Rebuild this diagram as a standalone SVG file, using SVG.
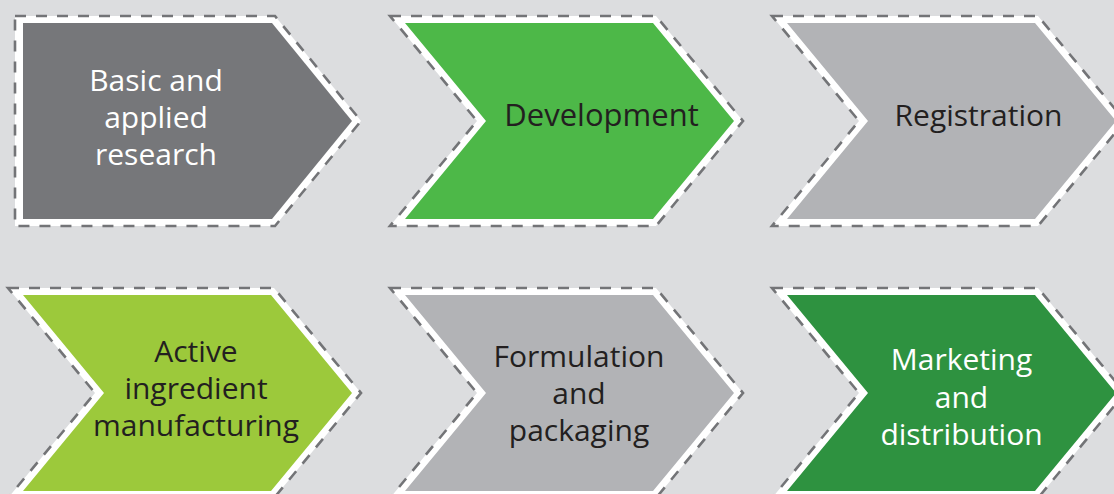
<svg xmlns="http://www.w3.org/2000/svg" width="1114" height="494" viewBox="0 0 1114 494">
<style>
.bg{fill:#dcdddf}
.outer{fill:#ffffff;stroke:#737477;stroke-width:2.6;stroke-dasharray:11 10;stroke-linejoin:miter}
.lbl{font-family:"Open Sans","Noto Sans",sans-serif;font-size:30px;text-anchor:middle}
.dark{fill:#231f20}
.light{fill:#ffffff}
</style>
<rect class="bg" x="0" y="0" width="1114" height="494"/>
<g id="node-basic-research">
<polygon class="outer" points="15,16 275,16 361,121 275,226 15,226"/>
<polygon fill="#76777a" points="23,23 272,23 352,121 272,219 23,219"/>
<text class="lbl light"><tspan x="156" y="90.5">Basic and</tspan><tspan x="156" y="127.5">applied</tspan><tspan x="156" y="164.5">research</tspan></text>
</g>
<g id="node-development">
<polygon class="outer" points="390,16 656,16 743,121 656,226 390,226 477,121"/>
<polygon fill="#4db848" points="405,23 653,23 734,121 653,219 405,219 486,121"/>
<text class="lbl dark" x="601.5" y="126" style="font-size:31px">Development</text>
</g>
<g id="node-registration">
<polygon class="outer" points="772,16 1038,16 1125,121 1038,226 772,226 859,121"/>
<polygon fill="#b2b3b6" points="787,23 1035,23 1116,121 1035,219 787,219 868,121"/>
<text class="lbl dark" x="978.5" y="126">Registration</text>
</g>
<g id="node-active-ingredient">
<polygon class="outer" points="8,288 274,288 361,393 274,498 8,498 95,393"/>
<polygon fill="#9cc93b" points="23,295 271,295 352,393 271,491 23,491 104,393"/>
<text class="lbl dark"><tspan x="196" y="361.5">Active</tspan><tspan x="196" y="398.5">ingredient</tspan><tspan x="196" y="435.5">manufacturing</tspan></text>
</g>
<g id="node-formulation">
<polygon class="outer" points="390,288 656,288 743,393 656,498 390,498 477,393"/>
<polygon fill="#b2b3b6" points="405,295 653,295 734,393 653,491 405,491 486,393"/>
<text class="lbl dark"><tspan x="579" y="366.5">Formulation</tspan><tspan x="579" y="403.5">and</tspan><tspan x="579" y="440.5">packaging</tspan></text>
</g>
<g id="node-marketing">
<polygon class="outer" points="772,288 1038,288 1125,393 1038,498 772,498 859,393"/>
<polygon fill="#2e9240" points="787,295 1035,295 1116,393 1035,491 787,491 868,393"/>
<text class="lbl light"><tspan x="961.5" y="370">Marketing</tspan><tspan x="961.5" y="407.5">and</tspan><tspan x="961.5" y="445">distribution</tspan></text>
</g>
<g id="connectors"></g>
</svg>
